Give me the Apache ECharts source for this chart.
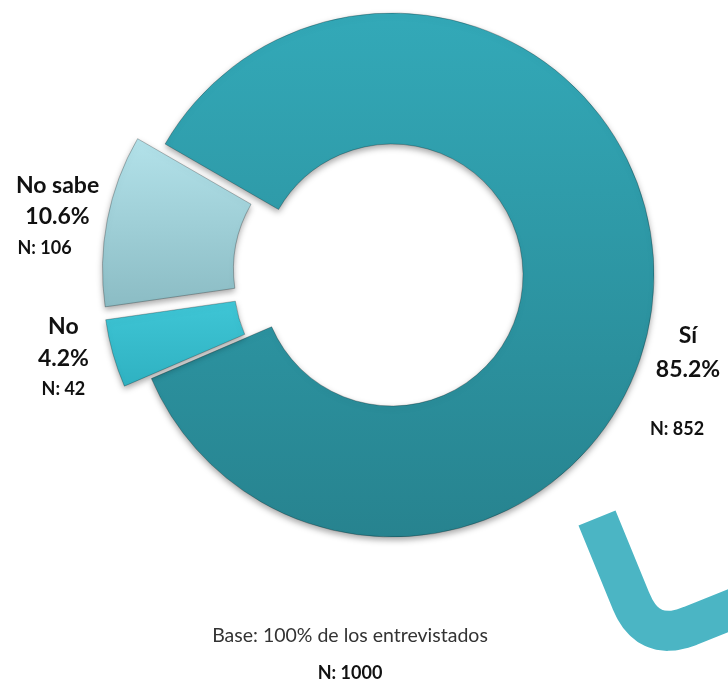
<!DOCTYPE html>
<html>
<head>
<meta charset="utf-8">
<script src="https://cdn.jsdelivr.net/npm/echarts@6/dist/echarts.min.js"></script>
<style>
html, body { margin: 0; padding: 0; background: #fff; }
#chart { width: 728px; height: 683px; }
</style>
</head>
<body>
<div id="chart"></div>
<script>
// answers and counts (N = 1000)
var answers = ['Sí', 'No', 'No sabe'];
var counts = [852, 42, 106];
var exploded = [false, true, true];
var baseText = 'Base: 100% de los entrevistados';
var baseN = 'N: 1000';

// slice fills (top -> bottom)
var fills = [
    ['#33a9b8', '#27838f'],
    ['#3fc6d6', '#2fb1c1'],
    ['#b3e2ea', '#8bbcc4']
];

// label blocks: x centre, name line centre, line height, N line height, N shift left
var labelBox = [
    {x: 688, y: 336, lh: 34, nlh: 84, shift: 11},
    {x: 73, y: 330, lh: 32, nlh: 31, shift: 0},
    {x: 57, y: 183, lh: 31, nlh: 33, shift: 13}
];

var FONT = 'Lato';

// decorative stroke bottom right: straight, rounded bend, straight
function decoPoints() {
    var pts = [[597, 518], [631, 601]];
    for (var t = 0.1; t < 1; t += 0.1) {
        var a = (1 - t) * (1 - t), b = 2 * t * (1 - t), c = t * t;
        pts.push([a * 631 + b * 648 + c * 690, a * 601 + b * 643 + c * 626]);
    }
    pts.push([690, 626], [770, 594]);
    return pts;
}

var pieData = answers.map(function (name, i) {
    var b = labelBox[i];
    return {
        name: name,
        value: counts[i],
        selected: exploded[i],
        itemStyle: {
            color: {
                type: 'linear', x: 0, y: 0, x2: 0, y2: 1,
                colorStops: [
                    {offset: 0, color: fills[i][0]},
                    {offset: 1, color: fills[i][1]}
                ]
            }
        },
        label: {
            rich: {
                n: {fontFamily: FONT, fontSize: 23, fontWeight: 'bold', color: '#111', lineHeight: b.lh},
                p: {fontFamily: FONT, fontSize: 23, fontWeight: 'bold', color: '#111', lineHeight: b.lh},
                c: {fontFamily: FONT, fontSize: 18, fontWeight: 'bold', color: '#111', lineHeight: b.nlh,
                    padding: [0, b.shift * 2, 0, 0]}
            }
        }
    };
});

var chart = echarts.init(document.getElementById('chart'));
chart.setOption({
    animation: false,
    title: {
        text: baseText,
        subtext: baseN,
        left: 345,
        top: 621,
        textAlign: 'center',
        itemGap: 18,
        textStyle: {fontFamily: FONT, fontSize: 19.5, fontWeight: 'normal', color: '#333'},
        subtextStyle: {fontFamily: FONT, fontSize: 18, fontWeight: 'bold', color: '#111'}
    },
    graphic: [{
        type: 'polyline', silent: true,
        shape: {points: decoPoints()},
        style: {fill: null, stroke: '#4bb5c4', lineWidth: 40, lineCap: 'butt', lineJoin: 'round'}
    }],
    series: [{
        type: 'pie',
        center: [392, 275],
        radius: [131, 262],
        startAngle: 150,
        clockwise: true,
        selectedMode: 'multiple',
        selectedOffset: 28,
        avoidLabelOverlap: false,
        itemStyle: {
            borderColor: 'rgba(0,0,0,0.25)',
            borderWidth: 1,
            shadowBlur: 6,
            shadowOffsetY: 3,
            shadowColor: 'rgba(0,0,0,0.35)'
        },
        select: {
            itemStyle: {borderColor: 'rgba(0,0,0,0.25)', borderWidth: 1}
        },
        label: {
            show: true,
            position: 'outside',
            formatter: '{n|{b}}\n{p|{d}%}\n{c|N: {c}}'
        },
        labelLine: {show: false},
        labelLayout: function (params) {
            var b = labelBox[params.dataIndex];
            var h = 2 * b.lh + b.nlh;
            return {x: b.x, y: b.y - b.lh / 2 + h / 2, align: 'center', verticalAlign: 'middle'};
        },
        data: pieData
    }]
});
</script>
</body>
</html>
